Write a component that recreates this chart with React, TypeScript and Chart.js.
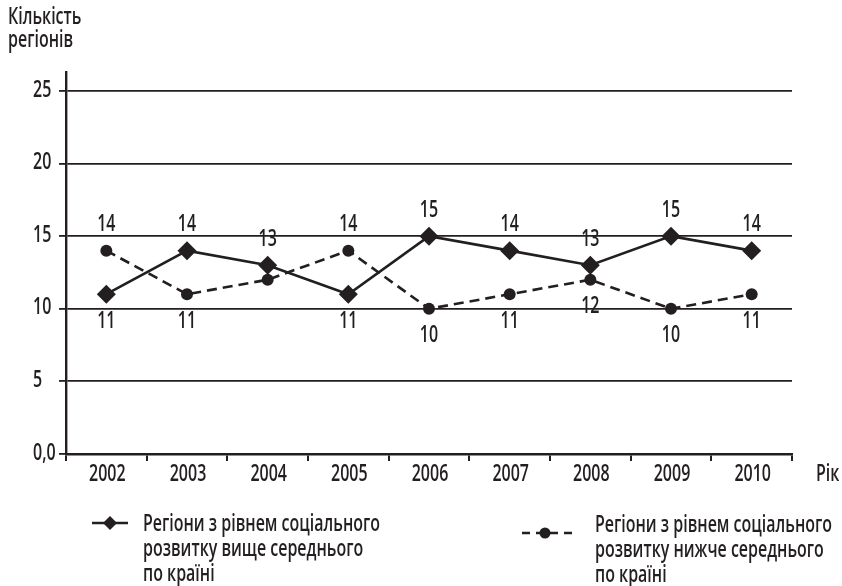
import React, { useEffect, useRef } from 'react';
import { Chart, registerables } from 'chart.js';

Chart.register(...registerables);

const years = ['2002', '2003', '2004', '2005', '2006', '2007', '2008', '2009', '2010'];
const aboveAverage = [11, 14, 13, 11, 15, 14, 13, 15, 14];
const belowAverage = [14, 11, 12, 14, 10, 11, 12, 10, 11];
const aboveLabelSide = ['below', 'above', 'above', 'below', 'above', 'above', 'above', 'above', 'above'];
const belowLabelSide = ['above', 'below', 'none', 'above', 'below', 'below', 'below', 'below', 'below'];
const yTickValues = [0, 5, 10, 15, 20, 25];
const yTitleLines = ['Кількість', 'регіонів'];
const xTitle = 'Рік';
const legendAboveLines = ['Регіони з рівнем соціального', 'розвитку вище середнього', 'по країні'];
const legendBelowLines = ['Регіони з рівнем соціального', 'розвитку нижче середнього', 'по країні'];

const FAMILY = '"Open Sans", "Noto Sans", "DejaVu Sans", sans-serif';
const INK = '#231f20';
const FS = 23.5;
const SX = 0.68;

function text(ctx: CanvasRenderingContext2D, s: string, x: number, y: number, align: CanvasTextAlign) {
  ctx.save();
  ctx.translate(x, y);
  ctx.scale(SX, 1);
  ctx.textAlign = align;
  ctx.textBaseline = 'middle';
  ctx.fillText(s, 0, 0);
  ctx.restore();
}

const overlayPlugin = {
  id: 'overlay',
  afterDatasetsDraw(chart: any) {
    const ctx = chart.ctx as CanvasRenderingContext2D;
    ctx.save();
    ctx.fillStyle = INK;
    ctx.font = `600 ${FS}px ${FAMILY}`;

    // tick labels via the scales
    const xs = chart.scales.x;
    const ys = chart.scales.y;
    xs.ticks.forEach((t: any, i: number) => {
      text(ctx, String(xs.getLabelForValue(t.value)), xs.getPixelForTick(i) + 1, xs.top + 20, 'center');
    });
    ys.ticks.forEach((t: any) => {
      const lbl = t.value === 0 ? '0,0' : String(t.value);
      text(ctx, lbl, 33, ys.getPixelForValue(t.value) - 1, 'left');
    });

    // data labels
    const sides = [aboveLabelSide, belowLabelSide];
    chart.data.datasets.forEach((ds: any, di: number) => {
      const meta = chart.getDatasetMeta(di);
      meta.data.forEach((pt: any, i: number) => {
        const side = sides[di][i];
        if (side === 'none') return;
        const dy = side === 'above' ? -26 : 27;
        text(ctx, String(ds.data[i]), pt.x, pt.y + dy, 'center');
      });
    });

    // axis titles
    yTitleLines.forEach((t, i) => text(ctx, t, 8, 17 + i * 23, 'left'));
    text(ctx, xTitle, 816, xs.top + 20, 'left');

    // legend
    const rowH = 25;
    const drawLegend = (
      lines: string[],
      x0: number,
      x1: number,
      ym: number,
      textX: number,
      textY: number,
      dash: number[],
      marker: 'diamond' | 'circle',
      mx: number
    ) => {
      ctx.save();
      ctx.strokeStyle = INK;
      ctx.lineWidth = 2.6;
      ctx.setLineDash(dash);
      ctx.beginPath();
      ctx.moveTo(x0, ym);
      ctx.lineTo(x1, ym);
      ctx.stroke();
      ctx.setLineDash([]);
      ctx.fillStyle = INK;
      ctx.beginPath();
      if (marker === 'diamond') {
        const r = 7;
        ctx.moveTo(mx, ym - r);
        ctx.lineTo(mx + r, ym);
        ctx.lineTo(mx, ym + r);
        ctx.lineTo(mx - r, ym);
        ctx.closePath();
      } else {
        ctx.arc(mx, ym, 5.5, 0, Math.PI * 2);
      }
      ctx.fill();
      ctx.restore();
      lines.forEach((t, i) => text(ctx, t, textX, textY + i * rowH, 'left'));
    };
    drawLegend(legendAboveLines, 92, 128, 523, 143, 524, [], 'diamond', 110);
    drawLegend(legendBelowLines, 522, 578, 533, 595, 525, [8, 6], 'circle', 545);
    ctx.restore();
  },
};

export default function App() {
  const ref = useRef<HTMLCanvasElement>(null);
  useEffect(() => {
    document.body.style.margin = '0';
    if (!ref.current) return;
    const chart = new Chart(ref.current, {
      type: 'line',
      data: {
        labels: years,
        datasets: [
          {
            label: legendAboveLines.join(' '),
            data: aboveAverage,
            borderColor: INK,
            backgroundColor: INK,
            borderWidth: 2.6,
            pointStyle: 'rectRot',
            pointRadius: 9.5,
            pointHoverRadius: 9.5,
            pointBorderWidth: 0,
            tension: 0,
          },
          {
            label: legendBelowLines.join(' '),
            data: belowAverage,
            borderColor: INK,
            backgroundColor: INK,
            borderWidth: 2.6,
            borderDash: [10, 6],
            pointStyle: 'circle',
            pointRadius: 6,
            pointHoverRadius: 6,
            pointBorderWidth: 0,
            tension: 0,
          },
        ],
      },
      options: {
        animation: false,
        responsive: true,
        maintainAspectRatio: false,
        layout: { padding: { left: 33, right: 50, top: 72, bottom: 92 } },
        plugins: {
          legend: { display: false },
          tooltip: { enabled: false },
        },
        scales: {
          x: {
            type: 'category',
            offset: true,
            grid: {
              offset: true,
              drawOnChartArea: false,
              drawTicks: true,
              tickLength: 7,
              color: INK,
              lineWidth: 2,
            },
            border: { display: true, color: INK, width: 2.4 },
            ticks: { display: false },
            afterFit: (s: any) => {
              s.height = 40;
            },
          },
          y: {
            min: 0,
            max: 26.3,
            afterBuildTicks: (s: any) => {
              s.ticks = yTickValues.map((v) => ({ value: v }));
            },
            grid: {
              color: INK,
              lineWidth: 1.8,
              drawTicks: true,
              tickLength: 7,
            },
            border: { display: true, color: INK, width: 2.4 },
            ticks: { display: false },
            afterFit: (s: any) => {
              s.width = 33;
            },
          },
        },
      },
      plugins: [overlayPlugin],
    });
    return () => chart.destroy();
  }, []);
  return (
    <div style={{ position: 'relative', width: 842, height: 586 }}>
      <canvas ref={ref} />
    </div>
  );
}
